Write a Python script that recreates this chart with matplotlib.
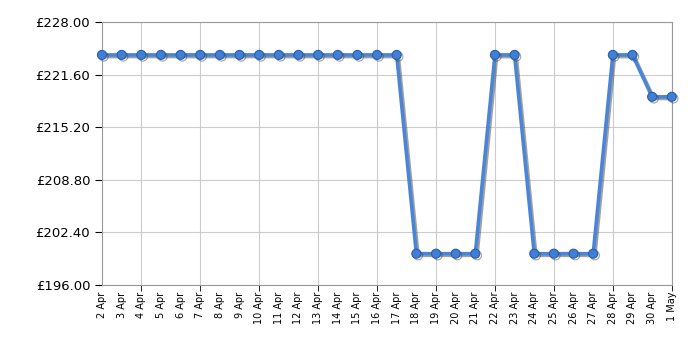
import matplotlib
matplotlib.use("Agg")
import matplotlib.pyplot as plt
import matplotlib.patheffects as pe
import numpy as np

# data
dates = ["2 Apr", "3 Apr", "4 Apr", "5 Apr", "6 Apr", "7 Apr", "8 Apr", "9 Apr",
         "10 Apr", "11 Apr", "12 Apr", "13 Apr", "14 Apr", "15 Apr", "16 Apr",
         "17 Apr", "18 Apr", "19 Apr", "20 Apr", "21 Apr", "22 Apr", "23 Apr",
         "24 Apr", "25 Apr", "26 Apr", "27 Apr", "28 Apr", "29 Apr", "30 Apr",
         "1 May"]
prices = [224.00] * 16 + [199.80] * 4 + [224.00] * 2 + [199.80] * 4 + [224.00] * 2 + [218.90] * 2
yticks = [196.00, 202.40, 208.80, 215.20, 221.60, 228.00]

x = np.arange(len(dates))

fig = plt.figure(figsize=(7, 3.5), dpi=100)
ax = fig.add_axes([0.1457, 0.186, 0.814, 0.751])

ax.plot(x, prices, color="#4a86d8", lw=2.6, marker="o", ms=6.5,
        markerfacecolor="#3f7fd6", markeredgecolor="#2a5ea8", markeredgewidth=0.8,
        path_effects=[pe.SimpleLineShadow(offset=(1.2, -1.2), shadow_color="#444444", alpha=0.5),
                      pe.Normal()], zorder=3, clip_on=False)

ax.set_xlim(0, len(dates) - 1)
ax.set_ylim(196, 228)

# labels on every day (no mark), tick marks and grid every third day
ax.xaxis.remove_overlapping_locs = False
ax.set_xticks(x, dates, rotation=90, fontsize=7)
ax.tick_params(axis="x", which="major", length=0, pad=5)
ax.set_xticks(x[2::3], minor=True)
ax.tick_params(axis="x", which="minor", length=4, color="black")
ax.xaxis.grid(True, which="minor", color="#cccccc", lw=0.8)

ax.set_yticks(yticks, ["£%.2f" % v for v in yticks], fontsize=9.5)
ax.tick_params(axis="y", length=5, color="black")
ax.yaxis.grid(True, color="#cccccc", lw=0.8)

for s in ax.spines.values():
    s.set_color("#999999")
ax.set_axisbelow(True)

fig.savefig("out.png", dpi=100)
